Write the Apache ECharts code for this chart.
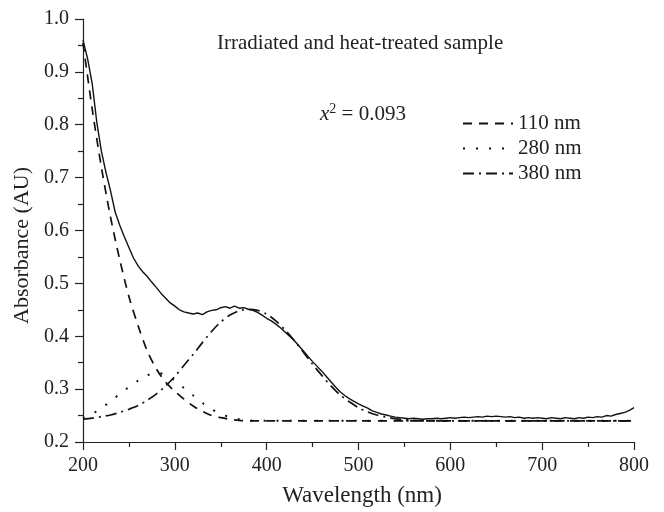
<!DOCTYPE html>
<html>
<head>
<meta charset="utf-8">
<script src="https://cdn.jsdelivr.net/npm/echarts@6/dist/echarts.min.js"></script>
<style>html,body{margin:0;padding:0;background:#fff;}#c{width:664px;height:512px;}</style>
</head>
<body>
<div id="c"></div>
<script>
// Measured spectrum, 200..800 nm every 5 nm
const measuredStart = 200, measuredStep = 5;
const measured = [
0.960,0.925,0.878,0.805,0.750,0.710,0.675,0.635,0.610,0.588,
0.568,0.548,0.533,0.522,0.513,0.502,0.492,0.481,0.472,0.463,
0.457,0.450,0.446,0.444,0.442,0.444,0.441,0.446,0.449,0.450,
0.454,0.456,0.453,0.457,0.453,0.454,0.451,0.449,0.445,0.440,
0.434,0.429,0.423,0.416,0.408,0.400,0.392,0.382,0.372,0.362,
0.352,0.343,0.334,0.324,0.314,0.304,0.295,0.288,0.282,0.277,
0.272,0.268,0.264,0.259,0.256,0.253,0.251,0.249,0.247,0.246,
0.245,0.244,0.245,0.244,0.243,0.244,0.244,0.245,0.244,0.245,
0.246,0.245,0.246,0.247,0.246,0.247,0.248,0.247,0.249,0.248,
0.249,0.248,0.247,0.248,0.246,0.247,0.245,0.246,0.245,0.246,
0.245,0.244,0.246,0.245,0.244,0.246,0.245,0.244,0.246,0.245,
0.247,0.246,0.248,0.247,0.250,0.249,0.252,0.254,0.256,0.260,
0.265
];
// Fitted components, 200..800 nm every 10 nm
const fitStart = 200, fitStep = 10;
const band110 = [
0.955,0.830,0.720,0.625,0.545,0.475,0.420,0.372,0.338,0.313,
0.296,0.281,0.268,0.258,0.250,0.246,0.243,0.241,0.240,0.240,
0.240,0.240,0.240,0.240,0.240,0.240,0.240,0.240,0.240,0.240,
0.240,0.240,0.240,0.240,0.240,0.240,0.240,0.240,0.240,0.240,
0.240,0.240,0.240,0.240,0.240,0.240,0.240,0.240,0.240,0.240,
0.240,0.240,0.240,0.240,0.240,0.240,0.240,0.240,0.240,0.240,
0.240
];
const band280 = [
0.245,0.253,0.264,0.277,0.291,0.304,0.316,0.326,0.331,0.327,
0.316,0.302,0.288,0.274,0.262,0.253,0.247,0.243,0.241,0.240,
0.240,0.240,0.240,0.240,0.240,0.240,0.240,0.240,0.240,0.240,
0.240,0.240,0.240,0.240,0.240,0.240,0.240,0.240,0.240,0.240,
0.240,0.240,0.240,0.240,0.240,0.240,0.240,0.240,0.240,0.240,
0.240,0.240,0.240,0.240,0.240,0.240,0.240,0.240,0.240,0.240,
0.240
];
const band380 = [
0.243,0.245,0.248,0.251,0.256,0.262,0.269,0.279,0.291,0.306,
0.324,0.345,0.366,0.388,0.409,0.427,0.440,0.448,0.451,0.449,
0.442,0.429,0.412,0.392,0.370,0.347,0.326,0.306,0.289,0.276,
0.265,0.257,0.251,0.247,0.244,0.242,0.241,0.240,0.240,0.240,
0.240,0.240,0.240,0.240,0.240,0.240,0.240,0.240,0.240,0.240,
0.240,0.240,0.240,0.240,0.240,0.240,0.240,0.240,0.240,0.240,
0.240
];
const legendNames = ['110 nm', '280 nm', '380 nm'];
const titleText = 'Irradiated and heat-treated sample';
const chiText = '0.093';
const xTitle = 'Wavelength (nm)';
const yTitle = 'Absorbance (AU)';

function pairs(start, step, arr) { return arr.map((v, i) => [start + i * step, v]); }

const FONT = '"Liberation Serif", "Times New Roman", serif';
const chart = echarts.init(document.getElementById('c'));
chart.setOption({
  animation: false,
  backgroundColor: '#fff',
  grid: { left: 83, right: 30, top: 19, bottom: 69 },
  title: {
    text: titleText, left: 217, top: 33, padding: 0,
    textStyle: { fontFamily: FONT, fontSize: 21, fontWeight: 'normal', color: '#222' }
  },
  legend: {
    data: legendNames, orient: 'vertical', left: 462, top: 113,
    itemWidth: 50, itemHeight: 10, itemGap: 4, padding: 0,
    itemStyle: { color: 'rgba(0,0,0,0)', borderColor: 'rgba(0,0,0,0)', borderWidth: 0 },
    textStyle: { fontFamily: FONT, fontSize: 21, color: '#222' }
  },
  graphic: [{
    type: 'text', left: 320, top: 102,
    style: {
      text: '{i|x}{s|2}{n| = ' + chiText + '}',
      font: '21px ' + FONT, fill: '#222',
      rich: {
        i: { fontFamily: FONT, fontSize: 21, fontStyle: 'italic', fill: '#222' },
        s: { fontFamily: FONT, fontSize: 14, verticalAlign: 'top', fill: '#222', padding: [0, 0, 10, 0] },
        n: { fontFamily: FONT, fontSize: 21, fill: '#222' }
      }
    }
  }],
  xAxis: {
    type: 'value', min: 200, max: 800, interval: 100,
    name: xTitle, nameLocation: 'middle', nameGap: 42,
    nameTextStyle: { fontFamily: FONT, fontSize: 23, color: '#222', padding: [0, 0, 0, 7] },
    axisLine: { lineStyle: { color: '#222', width: 1.2 } },
    axisTick: { inside: false, length: 8, lineStyle: { color: '#222', width: 1.2 } },
    minorTick: { show: true, splitNumber: 2, length: 5, lineStyle: { color: '#222', width: 1.2 } },
    axisLabel: { fontFamily: FONT, fontSize: 20, color: '#222', margin: 14 },
    splitLine: { show: false }
  },
  yAxis: {
    type: 'value', min: 0.2, max: 1.0, interval: 0.1,
    name: yTitle, nameLocation: 'middle', nameGap: 46, nameRotate: 90,
    nameTextStyle: { fontFamily: FONT, fontSize: 22, color: '#222', padding: [0, 30, 0, 0] },
    axisLine: { show: true, lineStyle: { color: '#222', width: 1.2 } },
    axisTick: { show: true, inside: false, length: 8, lineStyle: { color: '#222', width: 1.2 } },
    minorTick: { show: true, splitNumber: 2, length: 5, lineStyle: { color: '#222', width: 1.2 } },
    axisLabel: { fontFamily: FONT, fontSize: 20, color: '#222', margin: 14, formatter: v => v.toFixed(1) },
    splitLine: { show: false }
  },
  series: [
    { name: 'measured', type: 'line', showSymbol: false, symbol: 'circle', z: 5,
      data: pairs(measuredStart, measuredStep, measured),
      lineStyle: { color: '#111', width: 1.4 } },
    { name: legendNames[0], type: 'line', showSymbol: false, symbol: 'circle', smooth: 0.3,
      data: pairs(fitStart, fitStep, band110),
      itemStyle: { color: '#111' },
      lineStyle: { color: '#111', width: 1.7, type: [9, 7] } },
    { name: legendNames[1], type: 'line', showSymbol: false, symbol: 'circle', smooth: 0.3,
      data: pairs(fitStart, fitStep, band280),
      itemStyle: { color: '#111' },
      lineStyle: { color: '#111', width: 2, type: [2, 11] } },
    { name: legendNames[2], type: 'line', showSymbol: false, symbol: 'circle', smooth: 0.3,
      data: pairs(fitStart, fitStep, band380),
      itemStyle: { color: '#111' },
      lineStyle: { color: '#111', width: 1.7, type: [11, 5, 2, 5] } }
  ]
});
</script>
</body>
</html>
